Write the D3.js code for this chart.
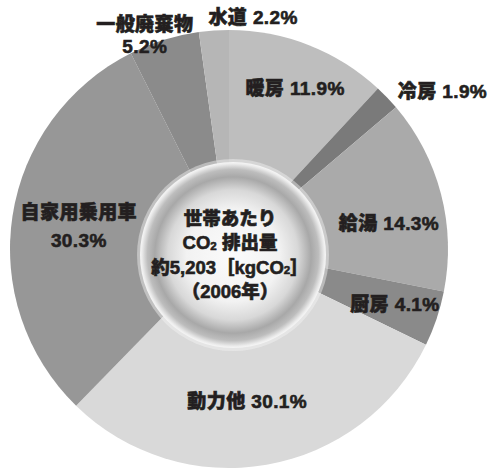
<!DOCTYPE html>
<html>
<head>
<meta charset="utf-8">
<script src="https://cdn.jsdelivr.net/npm/d3@7"></script>
<style>
  body { margin: 0; background: #fff; }
  svg text { font-family: "Liberation Sans", "Noto Sans CJK JP", sans-serif; font-weight: 900; fill: #231f20; stroke: #231f20; stroke-width: 0.6px; }
</style>
</head>
<body>
<div id="chart"></div>
<script>
// household CO2 emission shares, clockwise from 12 o'clock
var categories = ["暖房", "冷房", "給湯", "厨房", "動力他", "自家用乗用車", "一般廃棄物", "水道"];
var shares = [11.9, 1.9, 14.3, 4.1, 30.1, 30.3, 5.2, 2.2];
var centerLines = ["世帯あたり", "CO2 排出量", "約5,203［kgCO2］", "（2006年）"];

var shades = ["#bebebe", "#7a7a7a", "#aaaaaa", "#8a8a8a", "#d9d9d9", "#979797", "#8b8b8b", "#b6b6b6"];
// label radius, angle nudge (deg), two-line gap
var spots = [
  {r: 174, shift: 0.9, gap: 0},
  {r: 265, shift: 7.4, gap: 0},
  {r: 162, shift: 5.4, gap: 0},
  {r: 175, shift: 0, gap: 0},
  {r: 154, shift: 3.1, gap: 0},
  {r: 152, shift: 0, gap: 28},
  {r: 230, shift: -4.2, gap: 22},
  {r: 233, shift: 9.9, gap: 0}
];

var W = 491, H = 474,
    cx = 229, cy = 249, R = 219;

var svg = d3.select("#chart").append("svg")
  .attr("width", W)
  .attr("height", H);

var defs = svg.append("defs");
var grad = defs.append("radialGradient")
  .attr("id", "ball")
  .attr("cx", "50%").attr("cy", "50%").attr("r", "50%");
[[0, "#fbfbfb"], [0.5, "#f2f2f2"], [0.7, "#d8d8d8"], [0.84, "#a8a8a8"], [0.92, "#bdbdbd"], [0.98, "#ececec"], [1, "#f6f6f6"]]
  .forEach(function(s) {
    grad.append("stop").attr("offset", s[0]).attr("stop-color", s[1]);
  });

var pie = d3.pie().sort(null).value(function(d) { return d; });
var arcs = pie(shares);

var arc = d3.arc().innerRadius(0).outerRadius(R);

var g = svg.append("g").attr("transform", "translate(" + cx + "," + cy + ")");

g.selectAll("path.slice")
  .data(arcs)
  .enter().append("path")
  .attr("class", "slice")
  .attr("d", arc)
  .style("fill", function(d, i) { return shades[i]; });

// centre ball
var ball = svg.append("g").attr("transform", "translate(" + (cx + 4) + "," + (cy + 6) + ")");
ball.append("circle")
  .attr("r", 96)
  .style("fill", "#f4f4f4")
  .style("opacity", 0.45);
ball.append("circle")
  .attr("r", 93)
  .style("fill", "url(#ball)");

var ct = ball.append("text")
  .attr("text-anchor", "middle")
  .style("font-size", "18.5px");
centerLines.forEach(function(line, i) {
  var t = ct.append("tspan")
    .attr("x", -3)
    .attr("y", -37 + i * 24.5)
    .attr("dominant-baseline", "central");
  var bits = line.split("CO2");
  var lift = 0;
  bits.forEach(function(b, j) {
    if (b) { t.append("tspan").attr("dy", lift).text(b); lift = 0; }
    if (j < bits.length - 1) {
      // CO2 with a small subscript 2
      t.append("tspan").attr("dy", lift).text("CO");
      t.append("tspan").text("2").style("font-size", "11.5px").attr("dy", 3);
      lift = -3;
    }
  });
});

// slice labels
var labels = svg.append("g").attr("transform", "translate(" + cx + "," + cy + ")")
  .style("font-size", "19px")
  .style("letter-spacing", "0.4px");

arcs.forEach(function(d, i) {
  var s = spots[i];
  var a = (d.startAngle + d.endAngle) / 2 + s.shift * Math.PI / 180;
  var x = s.r * Math.sin(a), y = -s.r * Math.cos(a);
  var name = categories[i], pct = d3.format(".1f")(d.data) + "%";
  var t = labels.append("text")
    .attr("text-anchor", "middle")
    .attr("dominant-baseline", "central");
  if (s.gap) {
    t.append("tspan").attr("x", x).attr("y", y - s.gap / 2).attr("dominant-baseline", "central").text(name);
    t.append("tspan").attr("x", x).attr("y", y + s.gap / 2).attr("dominant-baseline", "central").text(pct);
  } else {
    t.attr("x", x).attr("y", y).text(name + " " + pct);
  }
});
</script>
</body>
</html>
